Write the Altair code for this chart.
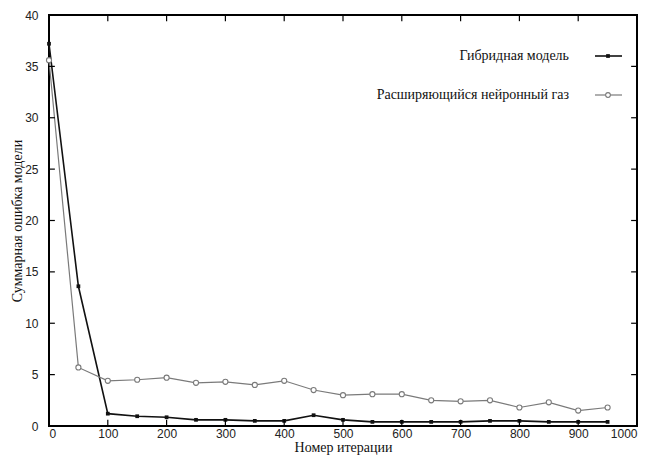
import altair as alt
import pandas as pd

iters = [0, 50, 100, 150, 200, 250, 300, 350, 400, 450, 500, 550, 600, 650, 700, 750, 800, 850, 900, 950]
hybrid = [37.2, 13.6, 1.2, 0.95, 0.85, 0.6, 0.6, 0.5, 0.5, 1.05, 0.6, 0.4, 0.4, 0.4, 0.4, 0.5, 0.5, 0.4, 0.4, 0.4]
gas = [35.6, 5.7, 4.4, 4.5, 4.7, 4.2, 4.3, 4.0, 4.4, 3.5, 3.0, 3.1, 3.1, 2.5, 2.4, 2.5, 1.8, 2.3, 1.5, 1.8]
series_names = ["Гибридная модель", "Расширяющийся нейронный газ"]
x_ticks = list(range(0, 1001, 100))
y_ticks = list(range(0, 41, 5))

FONT = "Liberation Serif"
LFONT = "Liberation Sans"

df = pd.concat([
    pd.DataFrame({"iter": iters, "err": hybrid, "series": series_names[0]}),
    pd.DataFrame({"iter": iters, "err": gas, "series": series_names[1]}),
])

xs = alt.Scale(domain=[0, 1000], nice=False, zero=False)
ys = alt.Scale(domain=[0, 40], nice=False, zero=False)
xax = alt.Axis(values=x_ticks, title="Номер итерации", ticks=False, domain=False, grid=False, format="d",
               labelPadding=2, titleY=25.5, titleBaseline="alphabetic", labelFont=LFONT, titleFont=FONT,
               labelFontSize=12, titleFontSize=14, titleFontWeight="normal", labelColor="#222", titleColor="#111")
yax = alt.Axis(values=y_ticks, title="Суммарная ошибка модели", ticks=False, domain=False, grid=False, format="d",
               labelPadding=11, titlePadding=0, labelFont=LFONT, titleFont=FONT, labelFontSize=12,
               titleFontSize=14, titleFontWeight="normal", labelColor="#222", titleColor="#111")
X = alt.X("iter:Q", scale=xs, axis=xax)
Y = alt.Y("err:Q", scale=ys, axis=yax)
color = alt.Color("series:N", scale=alt.Scale(domain=series_names, range=["#111111", "#7a7a7a"]), legend=None)

lines = alt.Chart(df).mark_line().encode(
    x=X, y=Y, color=color,
    strokeWidth=alt.StrokeWidth("series:N", scale=alt.Scale(domain=series_names, range=[1.6, 1.2]), legend=None),
)
pts_h = alt.Chart(df[df.series == series_names[0]]).mark_point(
    shape="square", filled=True, size=14, color="#111111", opacity=1).encode(x=X, y=Y)
pts_g = alt.Chart(df[df.series == series_names[1]]).mark_point(
    shape="circle", filled=True, fill="white", stroke="#7a7a7a", strokeWidth=1.1, size=26, opacity=1).encode(x=X, y=Y)

# inward ticks on all four sides
tk = []
for v in x_ticks:
    tk.append({"iter": v, "iter2": v, "err": 0, "err2": 0.6})
    tk.append({"iter": v, "iter2": v, "err": 40, "err2": 39.4})
for v in y_ticks:
    tk.append({"iter": 0, "iter2": 10, "err": v, "err2": v})
    tk.append({"iter": 1000, "iter2": 990, "err": v, "err2": v})
ticks = alt.Chart(pd.DataFrame(tk)).mark_rule(color="black", strokeWidth=1.2).encode(
    x=X, x2="iter2:Q", y=Y, y2="err2:Q")

# legend (label left, sample right)
leg = pd.DataFrame({"series": series_names})
leg_text = []
leg_rules = []
leg_pts = []
ypix = [41, 80]
cols = ["#111111", "#7a7a7a"]
for i, name in enumerate(series_names):
    d = leg.iloc[[i]]
    leg_text.append(alt.Chart(d).mark_text(align="right", baseline="middle", font=FONT, fontSize=14, color="#111").encode(
        text="series:N", x=alt.value(520), y=alt.value(ypix[i])))
    leg_rules.append(alt.Chart(d).mark_rule(color=cols[i], strokeWidth=1.6 if i == 0 else 1.2).encode(
        x=alt.value(546), x2=alt.value(573), y=alt.value(ypix[i])))
leg_pts.append(alt.Chart(leg.iloc[[0]]).mark_point(shape="square", filled=True, size=14, color="#111111", opacity=1).encode(
    x=alt.value(559), y=alt.value(ypix[0])))
leg_pts.append(alt.Chart(leg.iloc[[1]]).mark_point(shape="circle", filled=True, fill="white", stroke="#7a7a7a",
                                                  strokeWidth=1.1, size=22, opacity=1).encode(
    x=alt.value(559), y=alt.value(ypix[1])))

chart = alt.layer(lines, pts_g, pts_h, ticks, *leg_text, *leg_rules, *leg_pts).properties(
    width=588, height=411,
    background="white",
    autosize=alt.AutoSizeParams(type="none"),
    padding={"left": 41, "top": 7, "right": 11, "bottom": 29},
).configure_view(stroke="black", strokeWidth=2)

chart.save("out.html", embed_options={"renderer": "svg", "actions": False})
